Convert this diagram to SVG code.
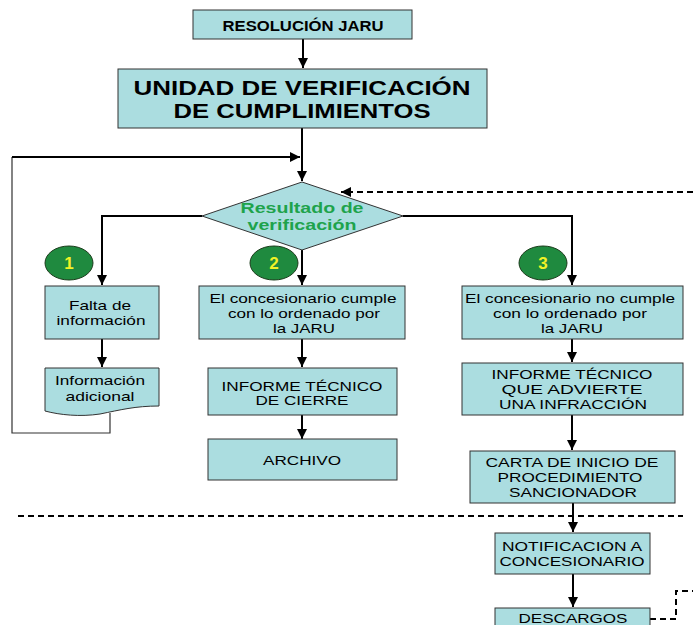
<svg xmlns="http://www.w3.org/2000/svg" width="693" height="625" viewBox="0 0 693 625">
<style>
.box{fill:#abdde0;stroke:#333;stroke-width:1}
.t{font-family:"Liberation Sans",Arial,sans-serif;font-size:13.5px;fill:#000;text-anchor:middle}
.b{font-weight:bold}
.ln{fill:none;stroke:#000;stroke-width:2}
.thin{fill:none;stroke:#333;stroke-width:1.2}
.dash{fill:none;stroke:#000;stroke-width:2;stroke-dasharray:6,4}
.circ{fill:#1f8a3f;stroke:#1d3d1d;stroke-width:1}
.num{font-family:"Liberation Sans",Arial,sans-serif;font-size:17px;font-weight:bold;fill:#f2f226;text-anchor:middle}
.grn{fill:#1ea34c}
</style>
<defs>
<marker id="ah" viewBox="0 0 10 10" refX="10" refY="5" markerWidth="5" markerHeight="5" orient="auto" markerUnits="strokeWidth">
<path d="M0,0 L10,5 L0,10 Z" fill="#000"/>
</marker>
</defs>
<g id="connectors">
<line class="ln" x1="303" y1="39" x2="303" y2="68" marker-end="url(#ah)"/>
<line class="ln" x1="302" y1="128" x2="302" y2="181" marker-end="url(#ah)"/>
<polyline class="thin" points="110,413 110,433 12,433 12,157"/>
<line class="ln" x1="12" y1="157" x2="300" y2="157" marker-end="url(#ah)"/>
<polyline class="ln" points="202,216 102,216 102,285" marker-end="url(#ah)"/>
<line class="ln" x1="302" y1="250" x2="302" y2="285" marker-end="url(#ah)"/>
<polyline class="ln" points="403,216 572,216 572,285" marker-end="url(#ah)"/>
<line class="dash" x1="693" y1="192" x2="341" y2="192" marker-end="url(#ah)"/>
<line class="ln" x1="102" y1="339" x2="102" y2="367" marker-end="url(#ah)"/>
<line class="ln" x1="302" y1="339" x2="302" y2="367" marker-end="url(#ah)"/>
<line class="ln" x1="302" y1="415" x2="302" y2="439" marker-end="url(#ah)"/>
<line class="ln" x1="572" y1="339" x2="572" y2="362" marker-end="url(#ah)"/>
<line class="ln" x1="572" y1="415" x2="572" y2="450" marker-end="url(#ah)"/>
<line class="ln" x1="573" y1="503" x2="573" y2="532" marker-end="url(#ah)"/>
<line class="ln" x1="573" y1="574" x2="573" y2="607" marker-end="url(#ah)"/>
<line class="dash" x1="18" y1="516" x2="683" y2="516"/>
<polyline class="dash" points="650,619 676,619 676,591 693,591"/>
</g>
<g id="resolucion">
<rect class="box" x="193" y="10" width="219" height="29"/>
<text class="t b" x="303" y="31" style="font-size:14px" textLength="161" lengthAdjust="spacingAndGlyphs">RESOLUCIÓN JARU</text>
</g>
<g id="unidad">
<rect class="box" x="118" y="69" width="369" height="59"/>
<text class="t b" x="302" y="95" style="font-size:21px" textLength="337" lengthAdjust="spacingAndGlyphs">UNIDAD DE VERIFICACIÓN</text>
<text class="t b" x="302" y="118" style="font-size:21px" textLength="257" lengthAdjust="spacingAndGlyphs">DE CUMPLIMIENTOS</text>
</g>
<g id="decision">
<polygon class="box" points="302,182 403,216 302,250 202,216"/>
<text class="t b grn" x="302" y="213" style="font-size:15.5px" textLength="123" lengthAdjust="spacingAndGlyphs">Resultado de</text>
<text class="t b grn" x="302" y="230" style="font-size:15.5px" textLength="109" lengthAdjust="spacingAndGlyphs">verificación</text>
</g>
<g id="c1">
<ellipse class="circ" cx="69" cy="263" rx="24" ry="17"/>
<text class="num" x="69" y="269">1</text>
</g>
<g id="c2">
<ellipse class="circ" cx="274" cy="263" rx="24" ry="17"/>
<text class="num" x="274" y="269">2</text>
</g>
<g id="c3">
<ellipse class="circ" cx="543" cy="263" rx="24" ry="17"/>
<text class="num" x="543" y="269">3</text>
</g>
<g id="falta">
<rect class="box" x="45" y="286" width="114" height="53"/>
<text class="t" x="100" y="310" textLength="62" lengthAdjust="spacingAndGlyphs">Falta de</text>
<text class="t" x="101" y="325" textLength="89" lengthAdjust="spacingAndGlyphs">información</text>
</g>
<g id="info-adicional">
<path class="box" d="M45,368 H159 V406 C135,406 120,410 100,414 C80,417 60,415 45,411 Z"/>
<text class="t" x="100" y="385" textLength="90" lengthAdjust="spacingAndGlyphs">Información</text>
<text class="t" x="100" y="401" textLength="69" lengthAdjust="spacingAndGlyphs">adicional</text>
</g>
<g id="cumple">
<rect class="box" x="199" y="286" width="206" height="53"/>
<text class="t" x="303" y="303" textLength="187" lengthAdjust="spacingAndGlyphs">El concesionario cumple</text>
<text class="t" x="304" y="318" textLength="152" lengthAdjust="spacingAndGlyphs">con lo ordenado por</text>
<text class="t" x="304" y="333" textLength="62" lengthAdjust="spacingAndGlyphs">la JARU</text>
</g>
<g id="informe-cierre">
<rect class="box" x="208" y="368" width="189" height="47"/>
<text class="t" x="302" y="391" textLength="161" lengthAdjust="spacingAndGlyphs">INFORME TÉCNICO</text>
<text class="t" x="302" y="405" textLength="93" lengthAdjust="spacingAndGlyphs">DE CIERRE</text>
</g>
<g id="archivo">
<rect class="box" x="208" y="439" width="189" height="41"/>
<text class="t" x="302" y="465" textLength="78" lengthAdjust="spacingAndGlyphs">ARCHIVO</text>
</g>
<g id="no-cumple">
<rect class="box" x="462" y="286" width="221" height="53"/>
<text class="t" x="570" y="303" textLength="210" lengthAdjust="spacingAndGlyphs">El concesionario no cumple</text>
<text class="t" x="570" y="318" textLength="154" lengthAdjust="spacingAndGlyphs">con lo ordenado por</text>
<text class="t" x="572" y="333" textLength="62" lengthAdjust="spacingAndGlyphs">la JARU</text>
</g>
<g id="informe-infraccion">
<rect class="box" x="462" y="363" width="221" height="52"/>
<text class="t" x="572" y="379" textLength="161" lengthAdjust="spacingAndGlyphs">INFORME TÉCNICO</text>
<text class="t" x="572" y="394" textLength="141" lengthAdjust="spacingAndGlyphs">QUE ADVIERTE</text>
<text class="t" x="573" y="409" textLength="148" lengthAdjust="spacingAndGlyphs">UNA INFRACCIÓN</text>
</g>
<g id="carta">
<rect class="box" x="470" y="451" width="205" height="52"/>
<text class="t" x="572" y="467" textLength="173" lengthAdjust="spacingAndGlyphs">CARTA DE INICIO DE</text>
<text class="t" x="570" y="482" textLength="145" lengthAdjust="spacingAndGlyphs">PROCEDIMIENTO</text>
<text class="t" x="573" y="497" textLength="128" lengthAdjust="spacingAndGlyphs">SANCIONADOR</text>
</g>
<g id="notificacion">
<rect class="box" x="495" y="533" width="155" height="41"/>
<text class="t" x="572" y="551" textLength="140" lengthAdjust="spacingAndGlyphs">NOTIFICACION A</text>
<text class="t" x="572" y="566" textLength="145" lengthAdjust="spacingAndGlyphs">CONCESIONARIO</text>
</g>
<g id="descargos">
<rect class="box" x="495" y="608" width="155" height="30"/>
<text class="t" x="573" y="623" textLength="109" lengthAdjust="spacingAndGlyphs">DESCARGOS</text>
</g>
</svg>
